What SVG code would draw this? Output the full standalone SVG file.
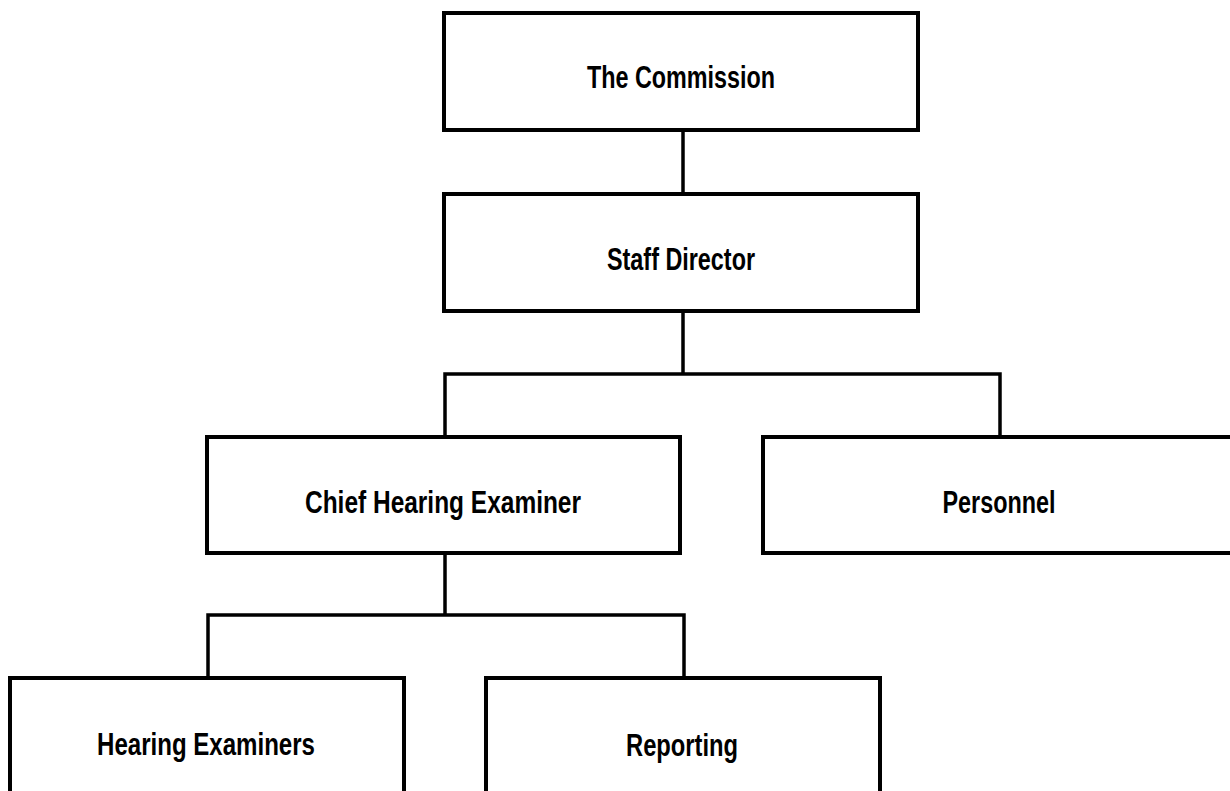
<svg xmlns="http://www.w3.org/2000/svg" width="1230" height="791" viewBox="0 0 1230 791">
<style>
.box{fill:#fff;stroke:#000;stroke-width:4}
.lbl{font-family:"Liberation Sans",Arial,sans-serif;font-weight:bold;font-size:31px;fill:#000;text-anchor:middle}
.con{fill:none;stroke:#000;stroke-width:3.5;stroke-linecap:square}
</style>
<rect width="1230" height="791" fill="#fff"/>
<g id="connectors">
<path class="con" d="M683,130 V194"/>
<path class="con" d="M683,311 V374 M445,437 V374 H1000 V437"/>
<path class="con" d="M445,553 V615 M208,678 V615 H684 V678"/>
</g>
<g id="commission">
<rect class="box" x="444" y="13" width="474" height="117"/>
<text class="lbl" x="681" y="88" textLength="188" lengthAdjust="spacingAndGlyphs">The Commission</text>
</g>
<g id="staff-director">
<rect class="box" x="444" y="194" width="474" height="117"/>
<text class="lbl" x="681" y="270" textLength="148" lengthAdjust="spacingAndGlyphs">Staff Director</text>
</g>
<g id="chief-hearing-examiner">
<rect class="box" x="207" y="437" width="473" height="116"/>
<text class="lbl" x="443" y="513" textLength="276" lengthAdjust="spacingAndGlyphs">Chief Hearing Examiner</text>
</g>
<g id="personnel">
<rect class="box" x="763" y="437" width="470" height="116"/>
<text class="lbl" x="999" y="513" textLength="113" lengthAdjust="spacingAndGlyphs">Personnel</text>
</g>
<g id="hearing-examiners">
<rect class="box" x="10" y="678" width="394" height="130"/>
<text class="lbl" x="206" y="755" textLength="218" lengthAdjust="spacingAndGlyphs">Hearing Examiners</text>
</g>
<g id="reporting">
<rect class="box" x="486" y="678" width="394" height="130"/>
<text class="lbl" x="682" y="756" textLength="112" lengthAdjust="spacingAndGlyphs">Reporting</text>
</g>
</svg>
